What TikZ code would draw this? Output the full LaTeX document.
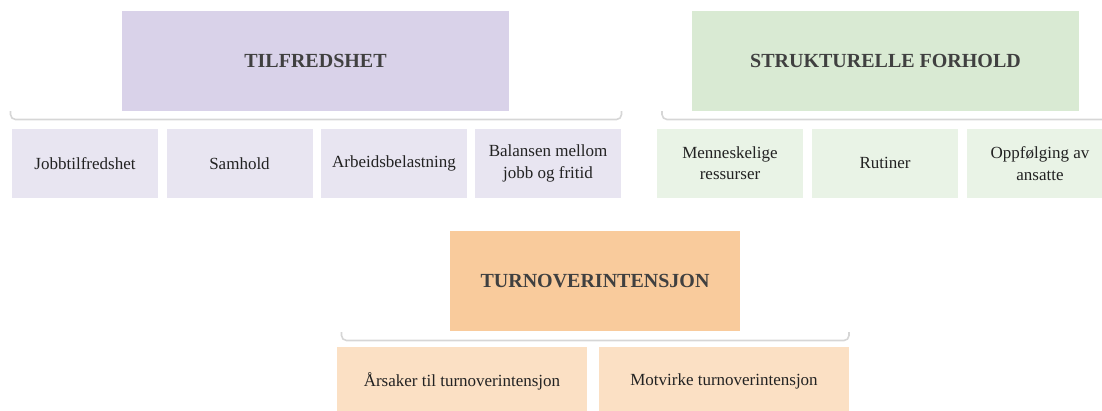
\documentclass[tikz,border=0pt]{standalone}
\usepackage{fontspec}
\setmainfont{Liberation Serif}
\definecolor{lavHead}{HTML}{D9D2E9}
\definecolor{lavSub}{HTML}{E8E5F1}
\definecolor{grnHead}{HTML}{D9EAD3}
\definecolor{grnSub}{HTML}{E9F3E6}
\definecolor{orgHead}{HTML}{F9CB9C}
\definecolor{orgSub}{HTML}{FBE0C4}
\definecolor{headText}{HTML}{404040}
\definecolor{subText}{HTML}{222222}
\definecolor{braceGray}{HTML}{D6D6D6}
\tikzset{
  header/.style={minimum width=387pt, minimum height=99.7pt, inner sep=0pt,
    font=\bfseries\fontsize{20}{24}\selectfont, text=headText},
  item/.style={minimum width=146pt, minimum height=68.7pt, inner sep=0pt,
    align=center, font=\fontsize{17}{21.5}\selectfont, text=subText},
  bracket/.style={draw=braceGray, line width=1.6pt, rounded corners=5pt},
}
\begin{document}
\begin{tikzpicture}[x=1pt,y=-1pt]
  \useasboundingbox (0,0) rectangle (1102,410);
  \clip (0,0) rectangle (1102,410);

  % group headers
  \node[header, fill=lavHead] (tilf) at (315.5,60.85) {TILFREDSHET};
  \node[header, fill=grnHead] (struk) at (885.5,60.85) {STRUKTURELLE FORHOLD};
  \node[header, fill=orgHead, minimum width=290pt, minimum height=100pt] (turn) at (595,281) {TURNOVERINTENSJON};

  % brackets under each header
  \draw[bracket] (10.5,111) -- (10.5,119.5) -- (621.5,119.5) -- (621.5,111);
  \draw[bracket] (662,111) -- (662,119.5) -- (1113,119.5) -- (1113,111);
  \draw[bracket] (341.5,332) -- (341.5,340.5) -- (849,340.5) -- (849,332);

  % satisfaction factors
  \node[item, fill=lavSub] (t1) at (85,163.35) {Jobbtilfredshet};
  \node[item, fill=lavSub] (t2) at (239.5,163.35) {Samhold};
  \node[item, fill=lavSub] (t3) at (394,163.35) {Arbeidsbelastning};
  \node[item, fill=lavSub] (t4) at (548,163.35) {Balansen mellom\\jobb og fritid};

  % structural factors
  \node[item, fill=grnSub] (s1) at (730,163.35) {Menneskelige\\ressurser};
  \node[item, fill=grnSub] (s2) at (885,163.35) {Rutiner};
  \node[item, fill=grnSub] (s3) at (1040,163.35) {Oppfølging av\\ansatte};

  % turnover intention
  \node[item, fill=orgSub, minimum width=250pt] (u1) at (462,381.35) {Årsaker til turnoverintensjon};
  \node[item, fill=orgSub, minimum width=250pt] (u2) at (724,381.35) {Motvirke turnoverintensjon};
\end{tikzpicture}
\end{document}
